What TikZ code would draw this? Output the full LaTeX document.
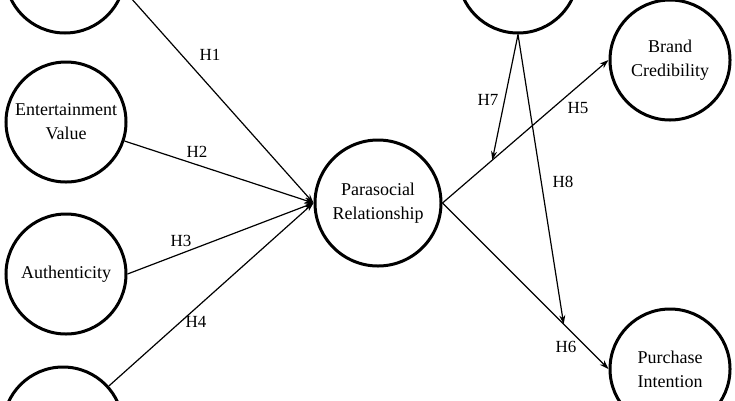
\documentclass[tikz,border=0pt]{standalone}
\usepackage{fontspec}
\setmainfont{Liberation Serif}
\usetikzlibrary{arrows.meta}
\tikzset{
	construct/.style={draw,circle,line width=3pt,minimum size=120pt,inner sep=0pt,align=center,
		font=\fontsize{18}{24}\selectfont},
	path/.style={-{Stealth[length=9pt,width=6pt]},line width=1.2pt},
	hyp/.style={font=\fontsize{17}{18}\selectfont}
}
\begin{document}
\begin{tikzpicture}[x=1pt,y=-1pt]
	\useasboundingbox (0,0) rectangle (735,400);
	% exogenous constructs
	\node[construct] (top) at (65,-27) {};
	\node[construct] (ent) at (66,122) {Entertainment\\Value};
	\node[construct] (aut) at (66,274) {Authenticity};
	\node[construct] (bot) at (63,427) {};
	\coordinate (topout) at (106,-30);
	% mediator, moderator, outcomes
	\node[construct,minimum size=126pt] (para) at (378,203) {Parasocial\\Relationship};
	\node[construct] (mod) at (518,-27) {};
	\node[construct] (cred) at (670,60) {Brand\\Credibility};
	\node[construct] (buy) at (670,369) {Purchase\\Intention};
	% H1 to H4
	\draw[path] (topout) -- (para.west);
	\draw[path] (ent.-18) -- (para.west);
	\draw[path] (aut.east) -- (para.west);
	\draw[path] (bot) -- (para.west);
	% H5, H6
	\draw[path] (para.east) -- (cred.west) coordinate[pos=0.3] (h7end);
	\draw[path] (para.east) -- (buy.west) coordinate[pos=0.73] (h8end);
	% moderation
	\draw[path] (mod.south) -- (h7end);
	\draw[path] (mod.south) -- (h8end);
	% labels
	\node[hyp] (lh1) at (210,55) {H1};
	\node[hyp] (lh2) at (197,152) {H2};
	\node[hyp] (lh3) at (181,241) {H3};
	\node[hyp] (lh4) at (196,322) {H4};
	\node[hyp] (lh5) at (578,108) {H5};
	\node[hyp] (lh6) at (566,347) {H6};
	\node[hyp] (lh7) at (488,100) {H7};
	\node[hyp] (lh8) at (563,182) {H8};
\end{tikzpicture}
\end{document}
